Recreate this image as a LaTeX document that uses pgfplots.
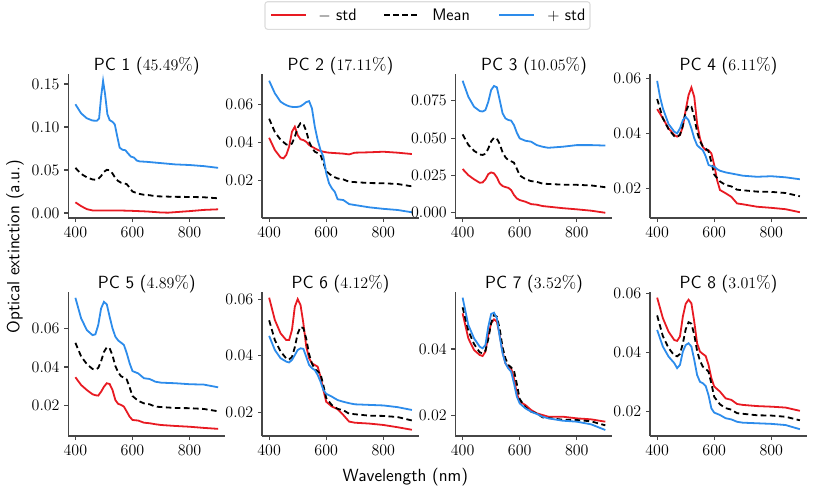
\documentclass[border=0pt]{standalone}
\usepackage{fontspec}
\usepackage{pgfplots}
\usepackage{pgfplotstable}
\pgfplotsset{compat=1.18}
\definecolor{cred}{RGB}{232,26,34}
\definecolor{cblue}{RGB}{45,140,235}
\definecolor{spine}{RGB}{70,70,70}
\definecolor{legframe}{RGB}{220,220,220}

\pgfplotstableread{
x m
400 0.0525
420 0.0455
440 0.0415
460 0.0390
470 0.0387
480 0.0395
490 0.0430
500 0.0478
510 0.0502
520 0.0497
530 0.0460
540 0.0405
550 0.0372
560 0.0352
570 0.0345
580 0.0335
590 0.0295
600 0.0250
620 0.0225
640 0.0212
660 0.0207
680 0.0195
700 0.0193
750 0.0188
800 0.0187
850 0.0183
900 0.0171
}\meantab

\pgfplotstableread{
x lo
400 0.0124
420 0.0080
440 0.0045
460 0.0030
500 0.0030
550 0.0030
600 0.0025
650 0.0018
700 0.0006
725 0.0004
750 0.0010
800 0.0022
850 0.0036
900 0.0043
}\pa

\pgfplotstableread{
x hi
400 0.1264
420 0.1159
440 0.1101
460 0.1075
475 0.1072
483 0.1100
490 0.1350
497 0.1535
504 0.1380
512 0.1150
520 0.1080
530 0.1060
538 0.1030
546 0.0900
555 0.0760
565 0.0735
575 0.0730
585 0.0690
595 0.0655
605 0.0645
615 0.0610
625 0.0600
650 0.0595
700 0.0580
750 0.0565
800 0.0558
850 0.0545
900 0.0525
}\pb

\pgfplotstableread{
x lo hi
400 0.0425 0.0724
420 0.0361 0.0658
440 0.0322 0.0614
450 0.0317 0.0604
460 0.0335 0.0596
470 0.0378 0.0590
480 0.0457 0.0587
490 0.0483 0.0586
500 0.0439 0.0587
510 0.0417 0.0590
520 0.0413 0.0600
530 0.0404 0.0612
540 0.0387 0.0617
550 0.0378 0.0579
560 0.0370 0.0483
570 0.0362 0.0413
580 0.0356 0.0361
590 0.0352 0.0326
600 0.0349 0.0239
610 0.0347 0.0186
620 0.0346 0.0160
630 0.0345 0.0142
640 0.0344 0.0103
660 0.0342 0.0099
680 0.0338 0.0078
700 0.0347 0.0073
750 0.0349 0.0061
800 0.0352 0.0053
850 0.0347 0.0047
900 0.0340 0.0035
}\pc

\pgfplotstableread{
x lo hi
400 0.0293 0.0884
420 0.0252 0.0777
440 0.0224 0.0710
460 0.0201 0.0681
470 0.0203 0.0678
480 0.0224 0.0688
490 0.0259 0.0743
500 0.0270 0.0822
510 0.0264 0.0849
520 0.0237 0.0840
530 0.0197 0.0755
540 0.0179 0.0666
550 0.0172 0.0632
560 0.0167 0.0621
570 0.0152 0.0617
580 0.0119 0.0587
590 0.0096 0.0536
600 0.0085 0.0498
620 0.0074 0.0482
640 0.0058 0.0476
660 0.0054 0.0453
680 0.0045 0.0442
700 0.0041 0.0435
750 0.0031 0.0442
800 0.0023 0.0453
850 0.0014 0.0453
900 0.0000 0.0450
}\pd

\pgfplotstableread{
x lo hi
400 0.0488 0.0591
410 0.0472 0.0533
420 0.0455 0.0491
440 0.0418 0.0434
460 0.0394 0.0406
470 0.0388 0.0400
480 0.0394 0.0418
490 0.0424 0.0448
500 0.0485 0.0460
510 0.0539 0.0448
520 0.0567 0.0418
530 0.0533 0.0382
540 0.0436 0.0357
550 0.0382 0.0347
560 0.0351 0.0339
570 0.0339 0.0317
580 0.0339 0.0285
590 0.0327 0.0281
600 0.0285 0.0279
610 0.0230 0.0270
620 0.0194 0.0264
640 0.0182 0.0258
660 0.0169 0.0254
680 0.0145 0.0250
700 0.0142 0.0246
750 0.0133 0.0242
800 0.0129 0.0244
850 0.0124 0.0240
900 0.0113 0.0233
}\pe

\pgfplotstableread{
x lo hi
400 0.0347 0.0758
420 0.0307 0.0652
440 0.0281 0.0591
460 0.0259 0.0565
470 0.0254 0.0569
480 0.0252 0.0617
490 0.0272 0.0703
500 0.0298 0.0737
510 0.0316 0.0724
520 0.0312 0.0660
530 0.0281 0.0600
540 0.0229 0.0557
550 0.0209 0.0537
560 0.0204 0.0526
570 0.0195 0.0514
580 0.0169 0.0471
590 0.0143 0.0419
600 0.0126 0.0379
620 0.0123 0.0367
640 0.0112 0.0342
660 0.0109 0.0338
680 0.0104 0.0324
700 0.0100 0.0319
750 0.0095 0.0316
800 0.0091 0.0311
850 0.0085 0.0309
900 0.0080 0.0295
}\pf

\pgfplotstableread{
x lo hi
400 0.0605 0.0470
420 0.0526 0.0420
440 0.0479 0.0391
460 0.0455 0.0379
470 0.0455 0.0376
480 0.0491 0.0385
490 0.0573 0.0402
500 0.0600 0.0420
510 0.0579 0.0426
520 0.0514 0.0424
530 0.0432 0.0396
540 0.0391 0.0367
550 0.0373 0.0356
560 0.0367 0.0349
570 0.0361 0.0332
580 0.0326 0.0308
590 0.0279 0.0279
600 0.0237 0.0265
620 0.0220 0.0255
640 0.0211 0.0243
660 0.0190 0.0237
680 0.0167 0.0232
700 0.0163 0.0228
750 0.0160 0.0226
800 0.0155 0.0224
850 0.0147 0.0218
900 0.0138 0.0208
}\pg

\pgfplotstableread{
x lo hi
400 0.0507 0.0554
420 0.0432 0.0472
440 0.0397 0.0432
460 0.0382 0.0407
470 0.0379 0.0402
480 0.0392 0.0412
490 0.0442 0.0467
500 0.0477 0.0505
510 0.0489 0.0509
520 0.0482 0.0492
530 0.0442 0.0437
540 0.0392 0.0387
550 0.0357 0.0357
560 0.0345 0.0342
570 0.0342 0.0332
580 0.0312 0.0297
590 0.0267 0.0257
600 0.0242 0.0237
620 0.0232 0.0222
640 0.0217 0.0212
660 0.0207 0.0205
680 0.0202 0.0197
700 0.0197 0.0192
750 0.0197 0.0185
800 0.0192 0.0182
850 0.0189 0.0174
900 0.0182 0.0157
}\ph

\pgfplotstableread{
x lo hi
400 0.0585 0.0476
420 0.0516 0.0420
440 0.0470 0.0386
460 0.0442 0.0364
470 0.0439 0.0347
480 0.0454 0.0358
490 0.0521 0.0403
500 0.0564 0.0425
510 0.0578 0.0431
520 0.0566 0.0420
530 0.0504 0.0375
540 0.0431 0.0324
550 0.0403 0.0301
560 0.0395 0.0296
570 0.0388 0.0287
580 0.0358 0.0256
590 0.0313 0.0211
600 0.0285 0.0197
620 0.0268 0.0189
640 0.0245 0.0178
660 0.0240 0.0174
680 0.0226 0.0166
700 0.0223 0.0163
750 0.0219 0.0161
800 0.0217 0.0159
850 0.0214 0.0155
900 0.0203 0.0141
}\pi

\tikzset{
  stdlo/.style={draw=cred, color=cred, line width=1.35pt},
  stdme/.style={draw=black, color=black, line width=1.35pt, dash pattern=on 4.2pt off 2.6pt},
  stdhi/.style={draw=cblue, color=cblue, line width=1.35pt},
}

\pgfplotsset{
  pcstyle/.style={
    scale only axis, width=117.75pt, height=108pt, anchor=north west,
    axis x line*=bottom, axis y line*=left,
    axis line style={spine, line width=0.8pt},
    xmin=375, xmax=925, xtick={400,600,800},
    tick align=outside, major tick length=3pt,
    tick style={spine, line width=0.8pt},
    tick label style={font=\fontsize{12.2}{14}\selectfont},
    scaled y ticks=false,
    yticklabel style={/pgf/number format/fixed, /pgf/number format/fixed zerofill, /pgf/number format/precision=2},
    title style={font=\sffamily\fontsize{13.2}{15}\selectfont, at={(0.5,1)}, anchor=base, yshift=-3.4pt},
    clip=false,
  },
}

\begin{document}
\begin{tikzpicture}
\useasboundingbox (0,0) rectangle (609.75pt,-369.75pt);

% legend (frame, keys, texts)
\draw[legframe, line width=0.8pt, fill=white, rounded corners=2pt] (198.75pt,-1.3pt) rectangle (442.5pt,-22pt);
\draw[stdlo] (203.25pt,-11pt) -- (229.5pt,-11pt);
\draw[stdme] (288pt,-11pt) -- (312.75pt,-11pt);
\draw[stdhi] (374.25pt,-11pt) -- (400.5pt,-11pt);
\node[anchor=base west, inner sep=0pt, font=\sffamily\fontsize{12.5}{14}\selectfont] at (238.5pt,-15.5pt) {$-$ std};
\node[anchor=base west, inner sep=0pt, font=\sffamily\fontsize{12.5}{14}\selectfont] at (324pt,-15.5pt) {Mean};
\node[anchor=base west, inner sep=0pt, font=\sffamily\fontsize{12.5}{14}\selectfont] at (410.25pt,-15.5pt) {$+$ std};

\begin{axis}[pcstyle, at={(51.2pt,-55.5pt)}, title={PC 1 ($45.49\%$)},
  ymin=-0.0058, ymax=0.1616, ytick={0,0.05,0.10,0.15}]
\addplot[stdlo] table[x=x,y=lo]{\pa};
\addplot[stdme] table[x=x,y=m]{\meantab};
\addplot[stdhi] table[x=x,y=hi]{\pb};
\end{axis}

\begin{axis}[pcstyle, at={(196.5pt,-55.5pt)}, title={PC 2 ($17.11\%$)},
  ymin=0.0005, ymax=0.0759, ytick={0.02,0.04,0.06}]
\addplot[stdlo] table[x=x,y=lo]{\pc};
\addplot[stdme] table[x=x,y=m]{\meantab};
\addplot[stdhi] table[x=x,y=hi]{\pc};
\end{axis}

\begin{axis}[pcstyle, at={(341.6pt,-55.5pt)}, title={PC 3 ($10.05\%$)},
  ymin=-0.0035, ymax=0.0929, ytick={0,0.025,0.05,0.075},
  yticklabel style={/pgf/number format/precision=3}]
\addplot[stdlo] table[x=x,y=lo]{\pd};
\addplot[stdme] table[x=x,y=m]{\meantab};
\addplot[stdhi] table[x=x,y=hi]{\pd};
\end{axis}

\begin{axis}[pcstyle, at={(487.5pt,-55.5pt)}, title={PC 4 ($6.11\%$)},
  ymin=0.0092, ymax=0.0616, ytick={0.02,0.04,0.06}]
\addplot[stdlo] table[x=x,y=lo]{\pe};
\addplot[stdme] table[x=x,y=m]{\meantab};
\addplot[stdhi] table[x=x,y=hi]{\pe};
\end{axis}

\begin{axis}[pcstyle, at={(51.2pt,-219pt)}, title={PC 5 ($4.89\%$)},
  ymin=0.0043, ymax=0.0788, ytick={0.02,0.04,0.06}]
\addplot[stdlo] table[x=x,y=lo]{\pf};
\addplot[stdme] table[x=x,y=m]{\meantab};
\addplot[stdhi] table[x=x,y=hi]{\pf};
\end{axis}

\begin{axis}[pcstyle, at={(196.5pt,-219pt)}, title={PC 6 ($4.12\%$)},
  ymin=0.0116, ymax=0.0625, ytick={0.02,0.04,0.06}]
\addplot[stdlo] table[x=x,y=lo]{\pg};
\addplot[stdme] table[x=x,y=m]{\meantab};
\addplot[stdhi] table[x=x,y=hi]{\pg};
\end{axis}

\begin{axis}[pcstyle, at={(341.6pt,-219pt)}, title={PC 7 ($3.52\%$)},
  ymin=0.0139, ymax=0.0571, ytick={0.02,0.04}]
\addplot[stdlo] table[x=x,y=lo]{\ph};
\addplot[stdme] table[x=x,y=m]{\meantab};
\addplot[stdhi] table[x=x,y=hi]{\ph};
\end{axis}

\begin{axis}[pcstyle, at={(487.5pt,-219pt)}, title={PC 8 ($3.01\%$)},
  ymin=0.0118, ymax=0.0604, ytick={0.02,0.04,0.06}]
\addplot[stdlo] table[x=x,y=lo]{\pi};
\addplot[stdme] table[x=x,y=m]{\meantab};
\addplot[stdhi] table[x=x,y=hi]{\pi};
\end{axis}

\node[rotate=90, font=\sffamily\fontsize{13.2}{15}\selectfont] at (11.25pt,-184.9pt) {Optical extinction (a.u.)};
\node[font=\sffamily\fontsize{13.2}{15}\selectfont] at (304pt,-357.75pt) {Wavelength (nm)};
\end{tikzpicture}
\end{document}
